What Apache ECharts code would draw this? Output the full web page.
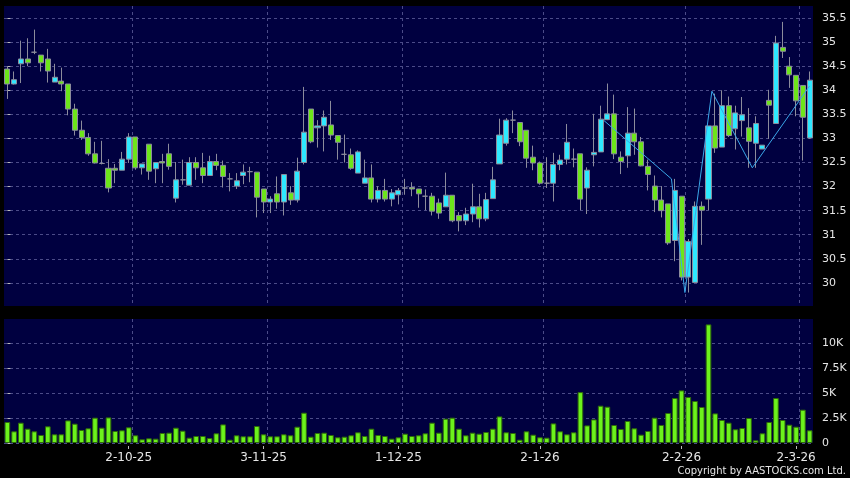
<!DOCTYPE html>
<html><head><meta charset="utf-8">
<script src="https://cdn.jsdelivr.net/npm/echarts@6/dist/echarts.min.js"></script>
<style>html,body{margin:0;padding:0;background:#000;}#c{width:850px;height:478px;}</style>
</head><body><div id="c"></div>
<script>
const opens = [34.44,34.13,34.55,34.65,34.79,34.73,34.65,34.17,34.19,34.13,
33.61,33.17,33.02,32.68,32.48,32.38,32.38,32.34,32.57,33.03,
32.39,32.88,32.37,32.52,32.68,31.76,32.14,32.03,32.50,32.39,
32.23,32.52,32.44,32.16,32.01,32.23,32.31,32.30,31.95,31.68,
31.85,31.68,31.87,31.72,32.50,33.61,33.22,33.26,33.28,33.06,
32.67,32.66,32.28,32.07,32.18,31.74,31.92,31.74,31.83,31.97,
31.98,31.95,31.80,31.80,31.66,31.58,31.82,31.40,31.29,31.43,
31.58,31.33,31.75,32.47,32.90,33.38,33.33,33.17,32.61,32.49,
32.07,32.07,32.46,32.57,32.57,32.68,31.97,32.66,32.72,33.39,
33.51,32.61,32.64,33.11,32.93,32.42,32.01,31.72,31.64,30.88,
31.80,30.12,30.01,31.59,31.74,33.26,32.82,33.68,33.20,33.37,
33.22,32.90,32.78,33.79,33.31,34.89,34.50,34.31,34.10,33.01];
const closes = [34.13,34.22,34.65,34.57,34.79,34.57,34.40,34.27,34.13,33.61,
33.17,33.02,32.68,32.49,32.48,31.97,32.34,32.57,33.03,32.39,
32.47,32.32,32.50,32.49,32.42,32.14,32.14,32.50,32.39,32.23,
32.52,32.44,32.21,32.16,32.12,32.30,32.31,31.78,31.68,31.74,
31.68,32.25,31.72,32.32,33.13,32.93,33.26,33.44,33.07,32.92,
32.67,32.38,32.72,32.18,31.74,31.92,31.74,31.87,31.92,31.97,
31.95,31.85,31.80,31.49,31.45,31.82,31.29,31.29,31.43,31.58,
31.33,31.73,32.14,33.07,33.38,33.38,32.93,32.59,32.49,32.07,
32.07,32.46,32.55,32.92,32.57,31.74,32.34,32.71,33.40,33.51,
32.68,32.52,33.11,32.93,32.43,32.25,31.72,31.50,30.83,31.92,
30.12,30.86,31.59,31.51,33.26,32.80,33.68,33.06,33.53,33.49,
32.94,33.31,32.86,33.69,34.98,34.81,34.32,33.78,33.44,34.21];
const lows = [33.82,34.12,34.15,34.50,34.75,34.39,34.16,34.17,33.98,33.48,
33.06,32.97,32.64,32.48,32.46,31.88,32.07,32.34,32.49,32.35,
32.25,32.14,32.07,32.07,32.35,31.67,32.04,32.03,32.14,32.07,
32.23,32.34,31.98,31.90,31.95,32.05,32.09,31.36,31.45,31.45,
31.54,31.40,31.62,31.67,32.46,32.90,32.81,32.73,32.97,32.56,
32.50,32.35,32.28,32.07,31.67,31.67,31.69,31.59,31.63,31.83,
31.80,31.56,31.51,31.40,31.33,31.58,31.26,31.07,31.20,31.26,
31.15,31.28,31.75,32.47,32.85,33.11,32.84,32.39,32.34,32.04,
31.97,31.69,32.34,32.46,32.40,31.51,31.43,32.42,32.72,33.38,
32.57,32.26,32.39,32.66,32.42,31.92,31.47,31.36,30.79,30.45,
30.05,29.80,30.01,30.79,31.51,32.70,32.82,33.03,32.77,33.04,
32.39,32.39,32.78,32.99,33.31,34.67,34.05,33.46,32.54,32.99];
const highs = [34.50,34.39,35.03,35.08,35.26,34.73,34.86,34.55,34.47,34.13,
33.72,33.37,33.11,32.93,32.95,32.57,32.47,32.72,33.11,33.03,
32.47,32.88,32.50,32.68,32.89,32.51,32.56,32.61,32.61,32.70,
32.64,32.68,32.54,32.28,32.28,32.46,32.41,32.30,31.95,31.80,
32.21,32.25,32.01,32.60,34.07,33.61,33.38,33.58,33.78,33.06,
33.08,32.79,32.75,32.56,32.46,32.01,32.16,31.95,31.97,32.16,
32.09,31.95,31.94,31.87,31.75,32.29,31.82,31.47,31.56,32.06,
31.85,31.87,32.41,33.41,33.42,33.58,33.33,33.17,32.85,32.52,
32.61,32.70,32.66,33.30,32.79,32.68,32.40,33.51,33.68,34.14,
33.91,32.73,33.65,33.62,33.03,32.56,32.23,32.01,31.64,32.16,
31.80,30.91,31.69,31.69,33.26,33.93,34.00,33.87,33.68,33.86,
33.63,33.46,32.86,34.01,35.13,35.42,34.69,34.31,34.10,34.39];
const volumes = [2100,1170,2030,1430,1170,800,1670,870,870,2260,
1930,1300,1470,2530,1530,2560,1200,1270,1570,770,
370,470,430,1000,1030,1530,1230,530,700,700,
500,970,1860,330,770,670,670,1700,870,670,
670,870,770,1630,3030,630,1000,1030,800,570,
630,770,1070,700,1430,800,700,430,570,930,
700,770,970,2030,1030,2430,2530,1430,770,1030,
930,1100,1430,2660,1070,1000,330,1170,830,570,
530,1960,1170,870,1070,5090,1760,2360,3730,3630,
1800,1400,2200,1470,830,1200,2530,1800,3000,4500,
5260,4600,4200,3600,11860,2960,2300,2030,1370,1500,
2500,270,970,2100,4500,2300,1830,1630,3330,1270];
const priceTicks = [30,30.5,31,31.5,32,32.5,33,33.5,34,34.5,35,35.5];
const volumeTicks = [0,2500,5000,7500,10000];
const dateLabels = ['2-10-25','3-11-25','1-12-25','2-1-26','2-2-26','2-3-26'];
const dateLabelIndex = [18,38,58,79,100,117];
const zigzagIndex = [88.5,98.5,100.5,104.5,110.5,119];
const zigzagValue = [33.37,32.16,29.80,33.98,32.39,34.09];

const FONT = 'DejaVu Sans';
const TXT = '#e6e6e6';
const GRIDLINE = {show:true, lineStyle:{color:'#4b4b88', type:[3,3], width:1}};
const cats = opens.map((_, i) => i);
const splitPos = dateLabelIndex.map(v => v + 0.5);

const chart = echarts.init(document.getElementById('c'), null, {renderer:'canvas'});
chart.setOption({
  animation:false,
  backgroundColor:'#000000',
  grid:[
    {left:4, right:37, top:6, height:300, show:true, backgroundColor:'#000040', borderWidth:0},
    {left:4, right:37, top:319, height:124, show:true, backgroundColor:'#000040', borderWidth:0}
  ],
  xAxis:[
    {type:'category', gridIndex:0, data:cats, boundaryGap:true, show:false},
    {type:'value', gridIndex:0, min:-0.5, max:119.5, axisLine:{show:false}, axisLabel:{show:false},
     axisTick:{show:false, customValues:splitPos}, splitLine:GRIDLINE},
    {type:'category', gridIndex:1, data:cats, boundaryGap:true, show:false},
    {type:'value', gridIndex:1, min:-0.5, max:119.5, position:'bottom', axisLine:{show:false}, axisLabel:{show:false},
     axisTick:{show:false, customValues:splitPos}, splitLine:GRIDLINE},
    {type:'value', gridIndex:1, min:-0.5, max:119.5, position:'bottom', offset:3, axisLine:{show:false},
     splitLine:{show:false},
     axisTick:{show:true, length:3, customValues:dateLabelIndex, lineStyle:{color:'#bbbbbb'}},
     axisLabel:{show:true, customValues:dateLabelIndex, margin:6, color:TXT, fontFamily:FONT, fontSize:12,
       formatter:v => dateLabels[dateLabelIndex.indexOf(v)] || ''}}
  ],
  yAxis:[
    {type:'value', gridIndex:0, min:29.52, max:35.75, position:'right', offset:5,
     axisLine:{show:false},
     axisTick:{show:true, length:3, customValues:priceTicks, lineStyle:{color:'#bbbbbb'}},
     axisLabel:{customValues:priceTicks, margin:4, color:TXT, fontFamily:FONT, fontSize:11},
     splitLine:GRIDLINE},
    {type:'value', gridIndex:1, min:0, max:12400, position:'right', offset:5,
     axisLine:{show:false},
     axisTick:{show:true, length:3, customValues:volumeTicks, lineStyle:{color:'#bbbbbb'}},
     axisLabel:{customValues:volumeTicks, margin:4, color:TXT, fontFamily:FONT, fontSize:11,
       formatter:v => v === 0 ? '0' : (v/1000) + 'K'},
     splitLine:GRIDLINE}
  ],
  series:[
    {type:'candlestick', xAxisIndex:0, yAxisIndex:0, barWidth:'82%',
     data:opens.map((o,i) => [o, closes[i], lows[i], highs[i]]),
     itemStyle:{color:'#2ee8ff', color0:'#6de51a', borderColor:'#8c8c9c', borderColor0:'#8c8c9c', borderColorDoji:'#8c8c9c', borderWidth:1}},
    {type:'line', xAxisIndex:1, yAxisIndex:0, symbol:'none',
     data:zigzagIndex.map((x,i) => [x, zigzagValue[i]]),
     lineStyle:{color:'#3aa6e8', width:1}},
    {type:'bar', xAxisIndex:2, yAxisIndex:1, barWidth:'84%', data:volumes,
     itemStyle:{color:'#6cf21c', borderColor:'#2f6a0a', borderWidth:1}}
  ],
  graphic:[
    {type:'text', right:4, top:466, style:{text:'Copyright by AASTOCKS.com Ltd.', fill:TXT, font:'10px "DejaVu Sans"'}}
  ]
});
</script></body></html>
